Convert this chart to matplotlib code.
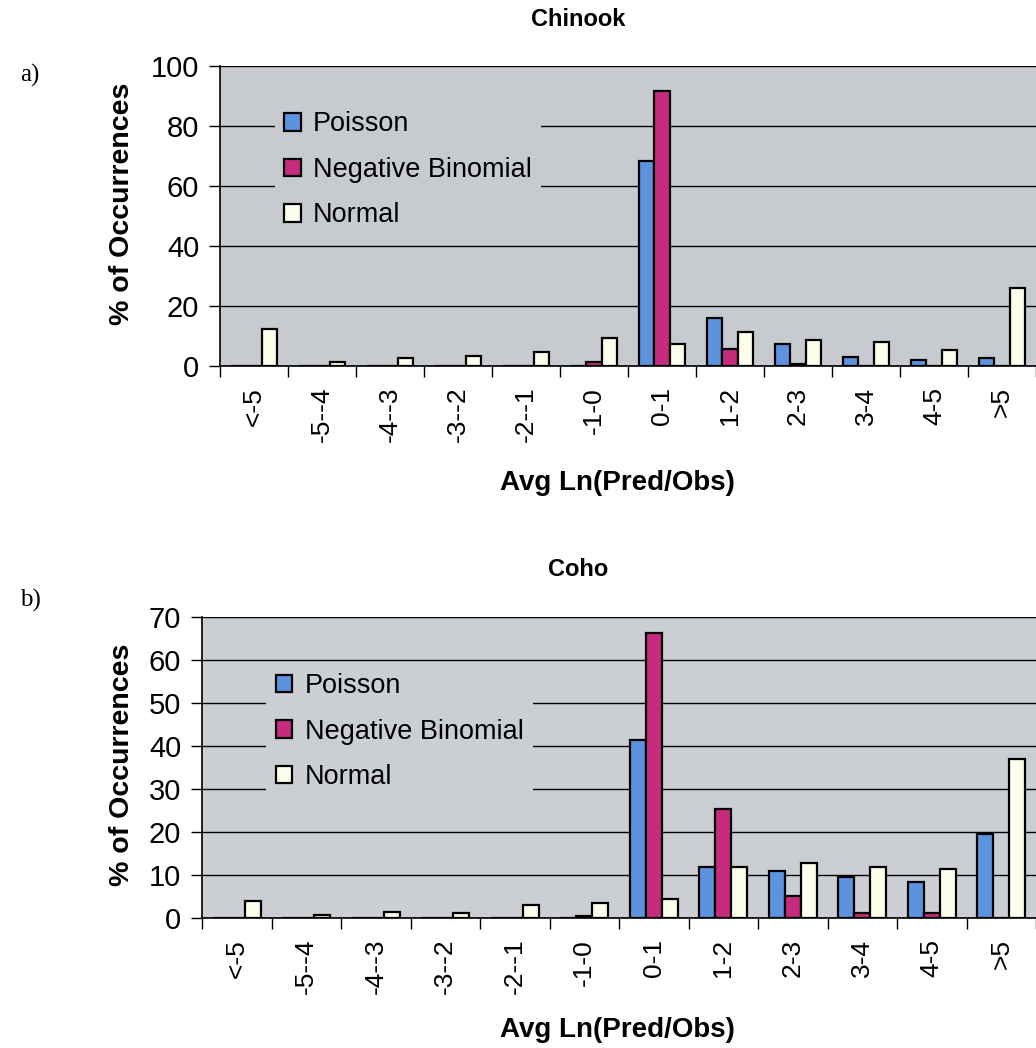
import matplotlib
matplotlib.use("Agg")
import matplotlib.pyplot as plt
import numpy as np

plt.rcParams['font.family'] = ['Liberation Sans', 'DejaVu Sans']

categories = ["<-5", "-5--4", "-4--3", "-3--2", "-2--1", "-1-0",
              "0-1", "1-2", "2-3", "3-4", "4-5", ">5"]
series_names = ["Poisson", "Negative Binomial", "Normal"]

chinook_poisson = [0, 0, 0, 0, 0, 0, 68.3, 15.9, 7.3, 3.1, 2.0, 2.6]
chinook_negbin = [0, 0, 0, 0, 0, 1.4, 91.7, 5.8, 0.7, 0, 0, 0]
chinook_normal = [12.2, 1.4, 2.7, 3.2, 4.7, 9.2, 7.2, 11.2, 8.6, 7.9, 5.2, 26.1]

coho_poisson = [0, 0, 0, 0, 0, 0, 41.4, 11.8, 10.9, 9.6, 8.3, 19.5]
coho_negbin = [0, 0, 0, 0, 0, 0.5, 66.2, 25.4, 5.2, 1.2, 1.2, 0]
coho_normal = [4.0, 0.6, 1.3, 1.2, 3.0, 3.6, 4.4, 11.8, 12.9, 11.9, 11.5, 36.9]

colors = ["#5d93de", "#c62b7e", "#fdfdec"]

W, H = 1036, 1048
fig = plt.figure(figsize=(W / 100, H / 100), dpi=100)


def fx(px):
    return px / W


def fy(py):
    return 1 - py / H


def draw_panel(rect, data, title, title_y, ymax, ystep, bg, legend_anchor,
               ylabel_y, xlabel_y):
    ax = fig.add_axes(rect)
    ax.set_facecolor(bg)
    x = np.arange(len(categories))
    w = 0.228
    for i, (vals, name) in enumerate(zip(data, series_names)):
        ax.bar(x + (i - 1) * w, vals, width=w, color=colors[i],
               edgecolor="black", linewidth=1.6, label=name, zorder=3)
    ax.set_xlim(-0.5, len(categories) - 0.5)
    ax.set_ylim(0, ymax)
    ax.set_yticks(np.arange(0, ymax + 1, ystep))
    ax.yaxis.grid(True, color="black", linewidth=1.0, zorder=1)
    ax.set_axisbelow(True)
    ax.set_xticks(np.arange(-0.5, len(categories) + 0.5, 1))
    ax.set_xticklabels([])
    ax.set_xticks(x, minor=True)
    ax.set_xticklabels(categories, minor=True, rotation=90, fontsize=19)
    ax.tick_params(axis="x", which="minor", length=0, pad=15)
    ax.tick_params(axis="x", which="major", length=8, width=1.0, direction="out")
    ax.tick_params(axis="y", length=8, width=1.0, direction="out", labelsize=21, pad=7)
    ax.spines["right"].set_visible(False)
    ax.spines["top"].set_visible(False)
    ax.spines["left"].set_linewidth(1.2)
    ax.spines["bottom"].set_linewidth(1.2)

    fig.text(fx(578), fy(title_y), title, fontsize=17, fontweight="bold",
             ha="center", va="center")
    fig.text(fx(122), fy(ylabel_y), "% of Occurrences", fontsize=20.5,
             fontweight="bold", rotation=90, ha="center", va="center")
    fig.text(fx(617), fy(xlabel_y), "Avg Ln(Pred/Obs)", fontsize=20,
             fontweight="bold", ha="center", va="center")

    leg = ax.legend(loc="upper left", bbox_to_anchor=legend_anchor, fontsize=19.5,
                    frameon=True, facecolor=bg, edgecolor="none", framealpha=1,
                    handlelength=0.62, handleheight=0.62, handletextpad=0.45,
                    labelspacing=0.72, borderpad=0.35, borderaxespad=0,
                    fancybox=False)
    leg.set_zorder(5)
    for h in leg.legend_handles:
        h.set_linewidth(1.6)
    return ax


# Chinook panel: plot area 220..1036 px wide, 66..366 px tall
draw_panel([fx(220), fy(366), fx(1036) - fx(220), fy(66) - fy(366)],
           [chinook_poisson, chinook_negbin, chinook_normal],
           "Chinook", 20, 100, 20, "#c7cbd0", (0.067, 0.88), 204, 483)
# Coho panel: plot area 202..1036 px wide, 617..918 px tall
draw_panel([fx(202), fy(918), fx(1036) - fx(202), fy(617) - fy(918)],
           [coho_poisson, coho_negbin, coho_normal],
           "Coho", 570, 70, 10, "#cbcfd3", (0.077, 0.845), 765, 1030)

fig.text(fx(20), fy(75), "a)", family=["Liberation Serif", "DejaVu Serif"],
         fontsize=18, va="center")
fig.text(fx(20), fy(600), "b)", family=["Liberation Serif", "DejaVu Serif"],
         fontsize=18, va="center")

fig.savefig("out.png", dpi=100, facecolor="white")
